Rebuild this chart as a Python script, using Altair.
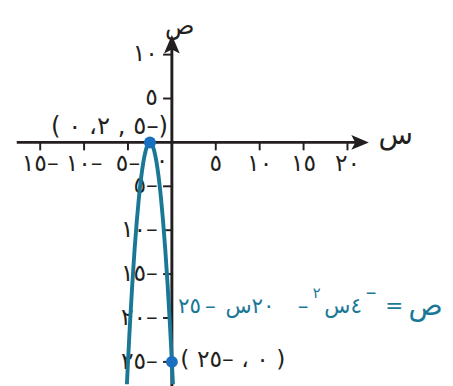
import altair as alt
import pandas as pd

LRO = "\u202d"
PDF = "\u202c"

# curve points
curve_x = [-5.2, -5.0, -4.75, -4.5, -4.25, -4.0, -3.75, -3.5, -3.25, -3.0, -2.75, -2.5,
           -2.25, -2.0, -1.75, -1.5, -1.25, -1.0, -0.75, -0.5, -0.25, 0.0, 0.2]
curve_y = [-29.16, -25.0, -20.25, -16.0, -12.25, -9.0, -6.25, -4.0, -2.25, -1.0, -0.25, 0.0,
           -0.25, -1.0, -2.25, -4.0, -6.25, -9.0, -12.25, -16.0, -20.25, -25.0, -29.16]

# marked points
pt_x = [-2.5, 0.0]
pt_y = [0.0, -25.0]
pt_labels = ["( ٠  ،٢ , ٥–)", "( ٢٥– ، ٠ )"]
pt_label_x = [-7.1, 6.94]
pt_label_y = [1.9, -24.8]
pt_label_sizes = [25, 24]

# ticks
x_ticks = [-15, -10, -5, 5, 10, 15, 20]
x_tick_labels = ["١٥–", "١٠–", "٥–", "٥", "١٠", "١٥", "٢٠"]
y_ticks = [10, 5, -5, -10, -15, -20, -25]
y_tick_labels = ["١٠", "٥", "٥–", "١٠–", "١٥–", "٢٠–", "٢٥–"]

# equation pieces (visual order, left to right)
eq_texts = ["٢٥", "–", "س٢٠", "–", "س٤", "=", "ص"]
eq_x = [2.0, 4.39, 8.9, 14.94, 19.5, 25.33, 28.9]
eq_sizes = [22, 22, 22, 22, 22, 22, 29]
eq_y = -18.67
sup_texts = ["٢", "–"]
sup_x = [16.5, 22.7]
sup_y = [-17.2, -17.1]
sup_sizes = [15, 22]

# axis titles
title_texts = ["ص", "س"]
title_x = [0.9, 25.5]
title_y = [13.25, 0.8]
title_sizes = [25, 29]

XMIN, XMAX = -18.667, 31.111
YMIN, YMAX = -27.556, 14.778

xs = alt.Scale(domain=[XMIN, XMAX], nice=False, zero=False)
ys = alt.Scale(domain=[YMIN, YMAX], nice=False, zero=False)
X = lambda f: alt.X(f, type="quantitative", scale=xs, axis=None)
Y = lambda f: alt.Y(f, type="quantitative", scale=ys, axis=None)

AXC = "#231f20"
TEAL = "#1a7896"
BLUE = "#1a6fc0"
FONT = "DejaVu Sans"
FS = 24

# axis lines
xaxis = alt.Chart(pd.DataFrame({"x": [-17.67], "x2": [21.0], "y": [0.0]})).mark_rule(
    color=AXC, strokeWidth=3).encode(x=X("x"), x2="x2", y=Y("y"))
yaxis = alt.Chart(pd.DataFrame({"x": [0.0], "y": [YMIN - 1], "y2": [11.0]})).mark_rule(
    color=AXC, strokeWidth=3).encode(x=X("x"), y=Y("y"), y2="y2")

xarrow = alt.Chart(pd.DataFrame({"x": [21.44], "y": [0.0]})).mark_point(
    shape="M1,0 L-1,-0.85 L-0.55,0 L-1,0.85 Z", size=324, filled=True, color=AXC, opacity=1
).encode(x=X("x"), y=Y("y"))
yarrow = alt.Chart(pd.DataFrame({"x": [0.0], "y": [11.17]})).mark_point(
    shape="M0,-1 L0.85,1 L0,0.55 L-0.85,1 Z", size=361, filled=True, color=AXC, opacity=1
).encode(x=X("x"), y=Y("y"))

# ticks
xt = pd.DataFrame({"x": x_ticks, "lab": [LRO + s + PDF for s in x_tick_labels]})
xt["y0"] = 0.0
xt["y1"] = -0.9
xt["ly"] = -2.5
xtick = alt.Chart(xt).mark_rule(color=AXC, strokeWidth=2).encode(x=X("x"), y=Y("y0"), y2="y1")
xlab = alt.Chart(xt).mark_text(font=FONT, fontSize=FS, color=AXC, baseline="middle", align="center").encode(
    x=X("x"), y=Y("ly"), text="lab")

yt = pd.DataFrame({"y": y_ticks, "lab": [LRO + s + PDF for s in y_tick_labels]})
yt["x0"] = -1.0
yt["x1"] = 0.0
yt["lx"] = -1.6
ytick = alt.Chart(yt).mark_rule(color=AXC, strokeWidth=2).encode(x=X("x0"), x2="x1", y=Y("y"))
ylab = alt.Chart(yt).mark_text(font=FONT, fontSize=FS, color=AXC, baseline="middle", align="right").encode(
    x=X("lx"), y=Y("y"), text="lab")

origin = alt.Chart(pd.DataFrame({"x": [-1.11], "y": [-2.1], "t": ["٠"]})).mark_text(
    font=FONT, fontSize=FS, color=AXC, baseline="middle", align="center").encode(x=X("x"), y=Y("y"), text="t")

titles = alt.Chart(pd.DataFrame({"x": title_x, "y": title_y, "t": title_texts, "fs": title_sizes})).mark_text(
    font=FONT, color=AXC, baseline="middle", align="center").encode(
    x=X("x"), y=Y("y"), text="t", size=alt.Size("fs:Q", scale=None, legend=None))

curve = alt.Chart(pd.DataFrame({"x": curve_x, "y": curve_y})).mark_line(
    color=TEAL, strokeWidth=4, interpolate="natural", clip=True).encode(x=X("x"), y=Y("y"), order="x:Q")

pts = alt.Chart(pd.DataFrame({"x": pt_x, "y": pt_y})).mark_circle(
    color=BLUE, size=150, opacity=1).encode(x=X("x"), y=Y("y"))

ptlab = alt.Chart(pd.DataFrame({"x": pt_label_x, "y": pt_label_y, "fs": pt_label_sizes,
                                "t": [LRO + s + PDF for s in pt_labels]})).mark_text(
    font=FONT, color=AXC, baseline="middle", align="center").encode(
    x=X("x"), y=Y("y"), text="t", size=alt.Size("fs:Q", scale=None, legend=None))

eq = alt.Chart(pd.DataFrame({"x": eq_x, "y": [eq_y] * len(eq_x), "fs": eq_sizes,
                             "t": [LRO + s + PDF for s in eq_texts]})).mark_text(
    font=FONT, color=TEAL, baseline="middle", align="center").encode(
    x=X("x"), y=Y("y"), text="t", size=alt.Size("fs:Q", scale=None, legend=None))
sup = alt.Chart(pd.DataFrame({"x": sup_x, "y": sup_y, "t": sup_texts,
                              "fs": sup_sizes})).mark_text(
    font=FONT, color=TEAL, baseline="middle", align="center").encode(
    x=X("x"), y=Y("y"), text="t", size=alt.Size("fs:Q", scale=None, legend=None))

chart = alt.layer(
    xaxis, yaxis, xtick, ytick, xarrow, yarrow, xlab, ylab, origin, titles,
    curve, pts, ptlab, eq, sup
).properties(width=448, height=381, padding=0, autosize=alt.AutoSizeParams(type="none")
).configure_view(stroke=None)

chart.save("out.html", embed_options={"renderer": "svg", "actions": False})
